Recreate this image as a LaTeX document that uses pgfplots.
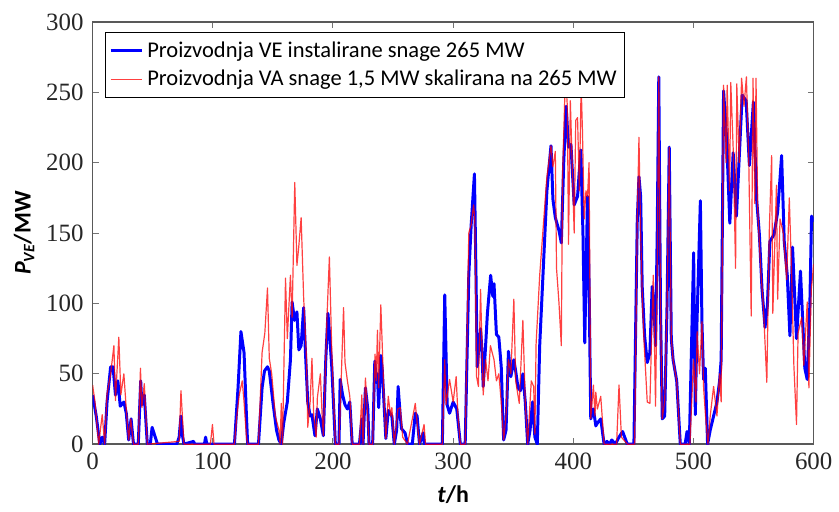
\documentclass[border=0pt]{standalone}
\usepackage{fontspec}
\setmainfont{Liberation Serif}
\newfontfamily\calibri{Carlito}
\usepackage{pgfplots}
\pgfplotsset{compat=1.18}
\definecolor{vblue}{RGB}{0,0,255}
\definecolor{vred}{RGB}{255,0,0}
\begin{document}
\begin{tikzpicture}
\begin{axis}[
  name=ax,
  scale only axis, width=362pt, height=212pt,
  xmin=0, xmax=600, ymin=0, ymax=300,
  xtick={0,100,...,600}, ytick={0,50,...,300},
  tick align=inside,
  major tick length=3pt,
  axis line style={draw=black!65, line width=0.7pt},
  major tick style={draw=black!55, line width=0.5pt},
  tick label style={font=\fontsize{12.5}{14}\selectfont, text=black!85},
  /pgf/number format/assume math mode=true,
  yticklabel style={xshift=-1pt},
  xticklabel style={yshift=-1pt},
  xlabel={\calibri\bfseries\fontsize{12}{14}\selectfont\itshape t\upshape/h},
  ylabel={\calibri\bfseries\fontsize{12}{14}\selectfont\itshape P\textsubscript{VE}\upshape/MW},
  xlabel style={at={(axis description cs:0.5,-0.12)}, anchor=center},
  ylabel style={at={(axis description cs:-0.095,0.5)}, anchor=center},
  legend style={at={(0.0166,0.976)}, anchor=north west, draw=black, line width=0.6pt,
    font=\calibri\fontsize{11.3}{13}\selectfont, inner xsep=2pt, inner ysep=2.5pt, row sep=1pt},
  legend cell align=left,
  legend image code/.code={\draw[#1] (0cm,0cm) -- (0.55cm,0cm);},
]
\addplot[vblue, line width=1.5pt, line join=round] table {
0 35
3 20
6 0
8 5
10 0
12 30
15 55
17 55
19 35
21 45
23 27
26 30
28 22
30 3
32 18
34 0
38 0
40 45
41 28
43 35
45.5 0
48 0
49.5 12
51 8
54 0
70 0
72 5
73.5 20
75 5
76 0
84 2
85 0
93 0
94 5
95 0
118 0
121 40
123.4 80
126 65
128 20
129 0
138 0
141 40
143 52
145.5 55
147 52
150 30
153 10
155 3
157 0
159 15
162 30
164.6 60
166 101
168 88
170 94
171.6 67
173.5 70
175.6 97
177 67
179 30
181 20
182.5 21
185 6
187 25
189.5 18
192 6
194 60
195.8 93
197 80
199 55
202 0
205 0
206 46
208 35
210 28
212 25
214 30
216 0
222 0
224 18
225 0
227 40
229 25
230 0
233 0
234.8 59
236 44
237 50
238 26
239.8 63
241 53
244 4
246 24
249 20
251 0
253 10
254.2 41
256 20
257 11
260 8
262 0
266 0
268.5 22
270 20
272 0
275 8
276 0
291 0
293 106
295 28
297 22
300 30
303 25
306 0
310 0
313 120
315 156
317.7 192
319 120
320 55
322.8 82
324 66
325 41
327 70
328.5 93
331.2 120
333 105
334 114
336 78
338 76
340 55
342 3
344 10
346 66
348 48
350.5 60
352 52
354 40
356 38
358 50
360 30
362 0
364 10
366 30
368 5
370 0
372 70
378 180
381.4 212
383 174
385 161
388 152
390 143
392 200
394 240
396 211
398 213
400.7 170
403.5 176
406.2 209
408 150
409.5 72
411.8 176
413 120
414.5 18
416.7 25
418.7 13
420 15
422.8 18
425.6 0
428 2
430 0
432 3
435 0
438 5
441 9
444.9 0
450.4 0
453.2 159
454.6 190
456 176
457.3 112
459.3 77
461.5 58
463.7 65
465.6 112
467 100
468.4 70
469.8 150
471.1 261
472.5 97
474 18
476 20
478 100
479.8 211
481.5 75
483 60
486 45
489 0
493 0
494.6 9
496.5 0
500.1 136
501.5 21
502.9 87
505.7 173
507 87
508.4 46
509.8 54
511.7 0
513.9 10
516.7 20
519.5 30
521.7 45
523 60
525 251
527.5 218
530.2 157
533 207
535.7 162
540.5 248
543.8 244
546.5 198
549.8 243
552.6 173
554.8 149
557 110
559.5 83
561.5 99
563.5 144
567 149
570 165
573.3 205
575.5 144
578 120
580.2 77
582.4 140
585.7 75
589 123
592.6 54
594.6 46
596.8 99
598.2 162
600 158
};
\addlegendentry{Proizvodnja VE instalirane snage 265 MW}
\addplot[vred, line width=0.6pt, opacity=0.75, line join=round] table {
0 42
2 30
5 0
8 21
10 0
12 36
15 50
17.7 70
19 31
21.8 76
23.5 35
26 50
28 25
30 3
31.7 18
34 0
38 0
39.8 54
41 26
43 43
45.5 0
72 2
73.5 38
76 0
98 0
99.7 14
101 0
118 0
120 20
122 35
124.5 45
126 30
128 5
129 0
138 0
141 65
143.3 79
145.5 111
147 61
149 50
152 20
155 10
156 0
157 29
158 0
160.5 118
162 75
164.6 120
166 90
168.2 186
170 127
171.5 140
173.5 161
175.6 104
178 60
179 12
181 30
182.5 61
184 20
186 5
187 33
189.5 50
191 20
192 6
195 90
197 133
199 66
202 0
205 0
207 50
208.8 97
210 58
212 45
214 34
216 0
222 0
224 35
225 0
227 47
228 33
230 0
233 0
235 64
236 45
237 81
238 40
239.8 99
241 70
243 20
244 4
246 34
248 20
249 26
251 0
254 25
256 26
258 5
262 0
268.5 29
270 15
272 0
275.8 14
277 0
291 0
293 60
294 28
297 46
300 30
302.5 48
304 20
306 0
310 0
313 150
315 156
317 170
318 160
319.5 48
321 41
322.8 110
325 35
327 60
329 45
331 70
334 60
336 45
338 50
340 30
342 3
344 20
346 60
348 50
350.5 103
352 45
355 29
358 88
360 30
362 0
365 45
367 41
368 7
369 71
372 120
378 190
381.4 212
383 197
385 208
386 125
388 101
390 70
391 190
393 250
394 255
395 240
396 142
397.5 244
399 200
400.7 150
402 230
403.5 232
405 180
406.5 255
407.6 222
409 160
410.5 180
411.8 176
413.1 200
414.5 18
416.7 42
418 20
418.7 37
420 25
422.8 34
425.6 0
436 0
438 42
440 5
442 3
445 0
451 0
453.2 161
454.6 218
456 150
457.5 100
459 70
461.5 30
463.7 29
465.6 92
466.5 120
468.4 27
469.8 120
471.1 261
472.5 97
474 18
476 30
478 100
479.8 211
481.5 75
483 60
486 45
489 0
497 0
500 60
502 30
503 80
505 50
507 87
508.4 40
510 20
512 0
513.9 20
516.7 41
519.5 20
521.7 50
523 30
525 255
527 200
528 255
530 180
531 257
533 210
535 125
536 256
538 200
540 260
542 240
544 261
546 200
548 91
549.5 260
551 171
552 260
553.4 167
556 122
558 100
561 44
563 150
565 205
566 93
569 184
570 103
572 160
574.7 150
577.5 117
579.7 175
581.6 122
583.5 56
585.7 14
587 79
590 90
591.8 56
594.6 101
596 40
598 110
600 128
};
\addlegendentry{Proizvodnja VA snage 1,5 MW skalirana na 265 MW}
\end{axis}
\path ([shift={(-46.5pt,-34pt)}]ax.south west) rectangle ([shift={(11pt,11pt)}]ax.north east);
\end{tikzpicture}
\end{document}
